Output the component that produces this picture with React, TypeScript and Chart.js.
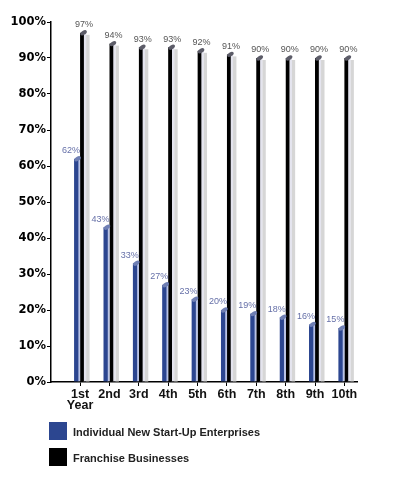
import React, { useEffect, useRef } from "react";
import { Chart, registerables } from "chart.js";

Chart.register(...registerables);

const years: (string | string[])[] = [["1st", "Year"], "2nd", "3rd", "4th", "5th", "6th", "7th", "8th", "9th", "10th"];
const startUps = [62, 43, 33, 27, 23, 20, 19, 18, 16, 15];
const franchises = [97, 94, 93, 93, 92, 91, 90, 90, 90, 90];
const seriesNames = ["Individual New Start-Up Enterprises", "Franchise Businesses"];
const seriesColors = ["#2c4690", "#000000"];
const yTickValues = [0, 10, 20, 30, 40, 50, 60, 70, 80, 90, 100];

const decorPlugin = {
  id: "decor",
  beforeDatasetsDraw(chart: any) {
    const ctx = chart.ctx;
    const m1 = chart.getDatasetMeta(1);
    ctx.save();
    ctx.fillStyle = "#d6d6d6";
    m1.data.forEach((el: any) => {
      const x0 = el.x + el.width / 2;
      ctx.fillRect(x0, el.y + 2, 3.5, el.base - el.y - 2);
    });
    ctx.restore();
  },
  afterDatasetsDraw(chart: any) {
    const ctx = chart.ctx;
    const m0 = chart.getDatasetMeta(0);
    const m1 = chart.getDatasetMeta(1);
    ctx.save();
    const cap = (x: number, y: number, color: string) => {
      ctx.fillStyle = color;
      ctx.beginPath();
      ctx.ellipse(x, y, 3.6, 2, -0.55, 0, Math.PI * 2);
      ctx.fill();
    };
    m0.data.forEach((el: any) => cap(el.x + 0.5, el.y, "#6f7fb4"));
    m1.data.forEach((el: any) => cap(el.x + 0.5, el.y, "#5c5c68"));
    ctx.font = "9px 'Liberation Sans', Arial, sans-serif";
    ctx.textAlign = "center";
    ctx.textBaseline = "middle";
    ctx.fillStyle = "#6670a8";
    m0.data.forEach((el: any, i: number) => {
      ctx.fillText(startUps[i] + "%", el.x - 6, el.y - 8);
    });
    ctx.fillStyle = "#555555";
    m1.data.forEach((el: any, i: number) => {
      ctx.fillText(franchises[i] + "%", el.x + 1, el.y - 8);
    });
    ctx.restore();
  },
};

export default function App() {
  const ref = useRef<HTMLCanvasElement>(null);

  useEffect(() => {
    if (!ref.current) return;
    const chart = new Chart(ref.current, {
      type: "bar",
      data: {
        datasets: [
          {
            label: seriesNames[0],
            data: startUps.map((v, i) => ({ x: i, y: v })),
            backgroundColor: seriesColors[0],
            borderColor: "#b9c3e6",
            borderWidth: { right: 2, left: 0, top: 0, bottom: 0 },
            borderSkipped: false,
            barThickness: 6,
          },
          {
            label: seriesNames[1],
            data: franchises.map((v, i) => ({ x: i, y: v })),
            backgroundColor: seriesColors[1],
            borderColor: "#e4e4ee",
            borderWidth: { right: 2.5, left: 0, top: 0, bottom: 0 },
            borderSkipped: false,
            barThickness: 6,
          },
        ],
      } as any,
      options: {
        animation: false,
        responsive: false,
        layout: { padding: { top: 22, right: 42, bottom: 68, left: 0 } },
        plugins: {
          legend: { display: false },
          tooltip: { enabled: false },
        },
        scales: {
          x: {
            type: "linear",
            min: -0.99,
            max: 9.43,
            offset: false,
            afterBuildTicks: (scale: any) => {
              scale.ticks = years.map((_, i) => ({ value: i }));
            },
            afterFit: (scale: any) => {
              scale.height = 40;
            },
            grid: {
              display: true,
              drawOnChartArea: false,
              drawTicks: true,
              tickLength: 4,
              color: "#000",
              offset: false,
            },
            border: { color: "#000", width: 1.5 },
            ticks: {
              padding: 3,
              maxRotation: 0,
              autoSkip: false,
              color: "#111",
              font: { family: "'Liberation Sans', Arial, sans-serif", weight: "bold", size: 12.5, lineHeight: 0.9 },
              callback: (v: any) => years[v as number],
            },
          },
          y: {
            min: 0,
            max: 100,
            afterBuildTicks: (scale: any) => {
              scale.ticks = yTickValues.map((v) => ({ value: v }));
            },
            afterFit: (scale: any) => {
              scale.width = 51;
            },
            grid: {
              display: true,
              drawOnChartArea: false,
              drawTicks: true,
              tickLength: 4,
              color: "#000",
            },
            border: { color: "#000", width: 1.5 },
            ticks: {
              padding: 1,
              color: "#000",
              font: { family: "'DejaVu Sans', sans-serif", weight: "bold", size: 11.5 },
              callback: (v: any) => v + "%",
            },
          },
        },
      } as any,
      plugins: [decorPlugin],
    });
    return () => chart.destroy();
  }, []);

  const legendText: React.CSSProperties = {
    position: "absolute",
    left: 73,
    font: "bold 11px 'Liberation Sans', Arial, sans-serif",
    color: "#222",
    lineHeight: "18px",
    whiteSpace: "nowrap",
  };

  return (
    <div style={{ position: "absolute", left: 0, top: 0, width: 399, height: 490, background: "#fff" }}>
      <canvas ref={ref} width={399} height={490} style={{ display: "block", width: 399, height: 490 }} />
      <div style={{ position: "absolute", left: 49, top: 422, width: 18, height: 18, background: seriesColors[0] }} />
      <div style={{ ...legendText, top: 423 }}>{seriesNames[0]}</div>
      <div style={{ position: "absolute", left: 49, top: 448, width: 18, height: 18, background: seriesColors[1] }} />
      <div style={{ ...legendText, top: 449 }}>{seriesNames[1]}</div>
    </div>
  );
}
